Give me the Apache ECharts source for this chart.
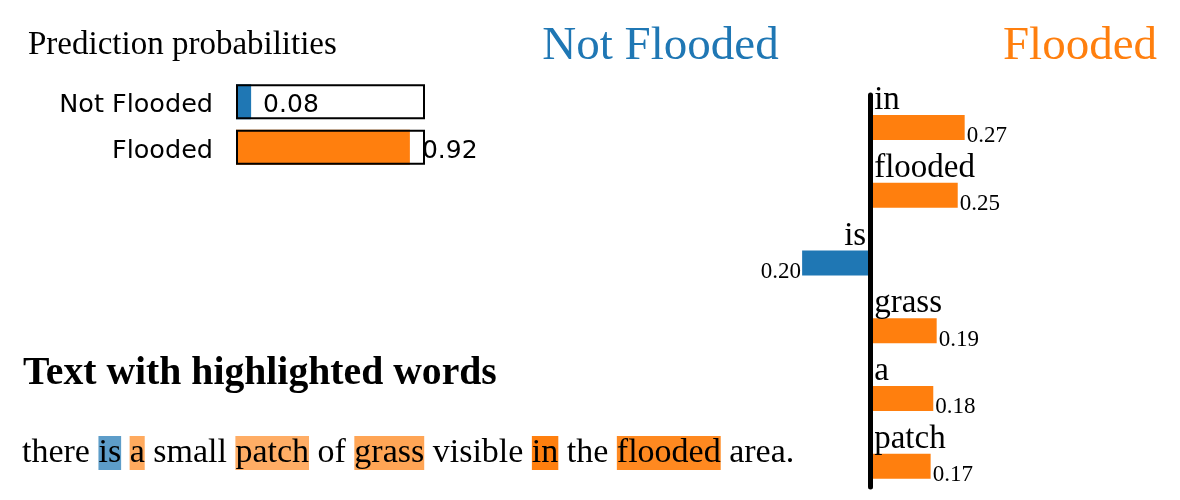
<!DOCTYPE html>
<html lang="en">
<head>
    <meta charset="UTF-8">
    <title>LIME text explanation</title>
    <script src="https://cdn.jsdelivr.net/npm/echarts@6/dist/echarts.min.js"></script>
    <style>
        html, body { margin: 0; padding: 0; background: #fff; }
    </style>
</head>
<body>

<div id="main" style="width: 1180px;height:500px;"></div>
<script type="text/javascript">

    // class probabilities
    let probNames = ['Not Flooded', 'Flooded'];
    let probValues = [0.08, 0.92];
    let probFrame = [1, 1];

    // word weights (negative = Not Flooded, positive = Flooded)
    let featWords = ['in', 'flooded', 'is', 'grass', 'a', 'patch'];
    let featWeights = [0.272, 0.252, -0.196, 0.1914, 0.1816, 0.174];

    // the explained sentence
    let sentence = ['there', 'is', 'a', 'small', 'patch', 'of', 'grass', 'visible', 'in', 'the', 'flooded', 'area.'];

    const BLUE = '#1f77b4';
    const ORANGE = '#ff7f0e';
    const SERIF = 'Liberation Serif';
    const SANS = 'DejaVu Sans';

    let maxW = Math.max(...featWeights.map(Math.abs));
    function hl(w) {
        let c = w < 0 ? [31, 119, 180] : [255, 127, 14];
        return 'rgba(' + c.join(',') + ',' + (Math.abs(w) / maxW).toFixed(3) + ')';
    }

    // rich text for the highlighted sentence
    let rich = {};
    let parts = sentence.map((word, i) => {
        let k = featWords.indexOf(word);
        if (k < 0) return word;
        rich['w' + i] = {
            backgroundColor: hl(featWeights[k]),
            fontSize: 34, fontFamily: SERIF, color: '#000', lineHeight: 39
        };
        return '{w' + i + '|' + word + '}';
    });
    let sentenceText = parts.join(' ');

    option = {
        backgroundColor: '#fff',
        animation: false,
        grid: [
            {left: 236, top: 79, width: 189, height: 91},
            {left: 766, top: 93.5, width: 208.4, height: 417.6},
            {left: 766, top: 95, width: 208.4, height: 392}
        ],
        xAxis: [
            {gridIndex: 0, type: 'value', min: 0, max: 1, show: false},
            {gridIndex: 1, type: 'value', min: -0.3, max: 0.3, show: false},
            {gridIndex: 2, type: 'value', min: -0.3, max: 0.3, show: false}
        ],
        yAxis: [{
            gridIndex: 0,
            type: 'category',
            inverse: true,
            data: probNames,
            show: false
        }, {
            gridIndex: 1,
            type: 'category',
            inverse: true,
            data: featWords,
            show: false
        }, {
            gridIndex: 2,
            type: 'category',
            inverse: true,
            data: featWords,
            z: 5,
            axisLine: {show: true, onZero: true, lineStyle: {color: '#000', width: 5}},
            axisTick: {show: false},
            axisLabel: {show: false},
            splitLine: {show: false}
        }],
        series: [{
            name: 'prob',
            type: 'bar',
            xAxisIndex: 0,
            yAxisIndex: 0,
            barWidth: 35,
            data: probValues.map((v, i) => ({
                value: v,
                itemStyle: {color: i === 0 ? BLUE : ORANGE}
            })),
            label: {
                show: true,
                position: 'right',
                distance: 12,
                offset: [0, 4],
                color: '#000',
                fontSize: 25,
                fontFamily: SANS,
                formatter: p => p.value.toFixed(2)
            }
        }, {
            name: 'frame',
            type: 'bar',
            xAxisIndex: 0,
            yAxisIndex: 0,
            barWidth: 35,
            barGap: '-100%',
            z: 3,
            silent: true,
            data: probFrame,
            itemStyle: {color: 'transparent', borderColor: '#000', borderWidth: 2},
            label: {
                show: true,
                position: 'left',
                distance: 23,
                offset: [0, 4],
                color: '#000',
                fontSize: 25.5,
                fontFamily: SANS,
                formatter: p => probNames[p.dataIndex]
            }
        }, {
            name: 'weight',
            type: 'bar',
            xAxisIndex: 1,
            yAxisIndex: 1,
            barWidth: 25,
            data: featWeights.map(w => ({
                value: w,
                itemStyle: {color: w < 0 ? BLUE : ORANGE},
                label: {
                    position: w < 0 ? [0, '100%'] : ['100%', '100%'],
                    align: w < 0 ? 'right' : 'left',
                    offset: [w < 0 ? -1 : 2, 8]
                }
            })),
            label: {
                show: true,
                verticalAlign: 'bottom',
                color: '#000',
                fontSize: 23,
                fontFamily: SERIF,
                formatter: p => Math.abs(p.value).toFixed(2)
            }
        }, {
            name: 'word',
            type: 'bar',
            xAxisIndex: 1,
            yAxisIndex: 1,
            barWidth: 25,
            barGap: '-100%',
            silent: true,
            itemStyle: {color: 'transparent'},
            data: featWeights.map(w => ({
                value: w,
                label: {
                    position: w < 0 ? ['100%', 0] : [0, 0],
                    align: w < 0 ? 'right' : 'left',
                    offset: [w < 0 ? -4 : 4, 2]
                }
            })),
            label: {
                show: true,
                verticalAlign: 'bottom',
                color: '#000',
                fontSize: 33,
                fontFamily: SERIF,
                formatter: p => featWords[p.dataIndex]
            }
        }],
        graphic: [{
            type: 'text', x: 28, y: 45.5,
            style: {text: 'Prediction probabilities', fontSize: 33, fontFamily: SERIF, fill: '#000', verticalAlign: 'middle'}
        }, {
            type: 'text', x: 660.5, y: 47,
            style: {text: probNames[0], fontSize: 47, fontFamily: SERIF, fill: BLUE, align: 'center', verticalAlign: 'middle'}
        }, {
            type: 'text', x: 1157, y: 47,
            style: {text: probNames[1], fontSize: 47, fontFamily: SERIF, fill: ORANGE, align: 'right', verticalAlign: 'middle'}
        }, {
            type: 'text', x: 23, y: 374,
            style: {text: 'Text with highlighted words', fontSize: 39.7, fontWeight: 'bold', fontFamily: SERIF, fill: '#000', verticalAlign: 'middle'}
        }, {
            type: 'text', x: 22, y: 453,
            style: {
                text: sentenceText,
                rich: rich,
                fontSize: 34,
                fontFamily: SERIF,
                fill: '#000',
                lineHeight: 39,
                verticalAlign: 'middle'
            }
        }]
    };

    let myChart = echarts.init(document.getElementById('main'));
    myChart.setOption(option);
</script>
</body>
</html>
